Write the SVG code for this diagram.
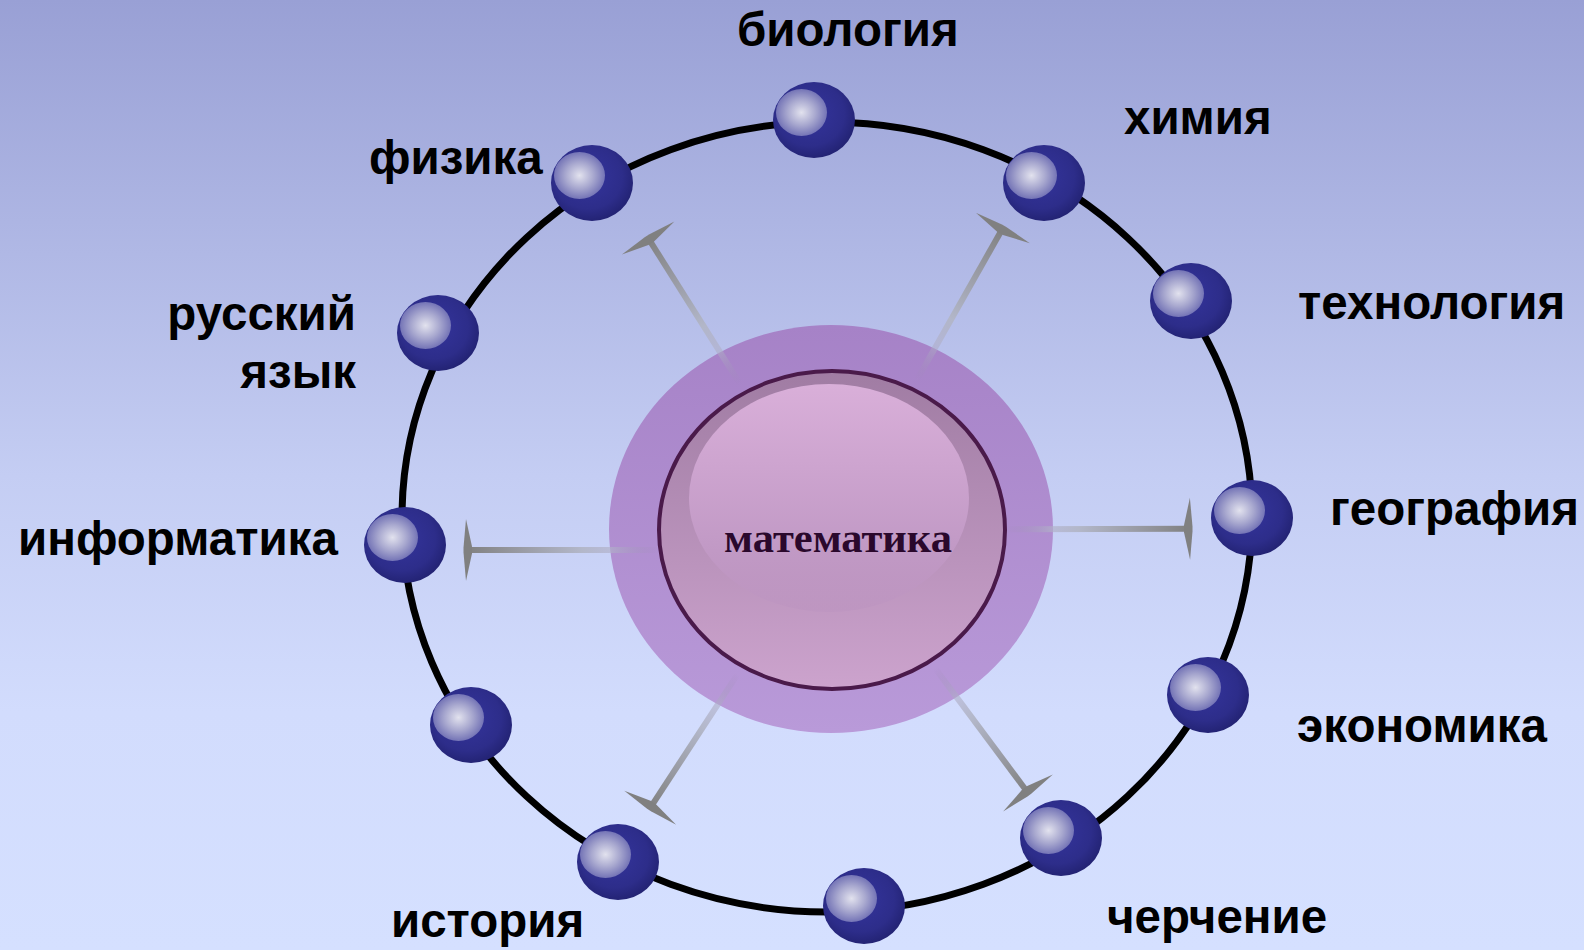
<svg xmlns="http://www.w3.org/2000/svg" xmlns:xlink="http://www.w3.org/1999/xlink" width="1584" height="950" viewBox="0 0 1584 950">
<style>
.lbl{font-family:"Liberation Sans",Arial,sans-serif;font-weight:bold;font-size:47.5px;fill:#000}
.ctr{font-family:"Liberation Serif","Times New Roman",serif;font-weight:bold;font-size:42.5px;fill:#2a082c}
.tbar{fill:#808080}
</style>
<defs>
<linearGradient id="bg" x1="0" y1="0" x2="0" y2="1">
<stop offset="0" stop-color="#99a0d5"/>
<stop offset="0.5" stop-color="#c4cdf3"/>
<stop offset="0.75" stop-color="#d2dcfd"/>
<stop offset="1" stop-color="#d5e0ff"/>
</linearGradient>
<radialGradient id="ballBody" cx="0.45" cy="0.42" r="0.6">
<stop offset="0" stop-color="#34349c"/>
<stop offset="0.7" stop-color="#2d2d8a"/>
<stop offset="1" stop-color="#222272"/>
</radialGradient>
<radialGradient id="ballHi" cx="0.5" cy="0.5" r="0.5">
<stop offset="0" stop-color="#e2e2ee"/>
<stop offset="0.55" stop-color="#a8a8cf"/>
<stop offset="1" stop-color="#7474b6"/>
</radialGradient>
<linearGradient id="halo" x1="0" y1="0" x2="0" y2="1">
<stop offset="0" stop-color="#a682c7"/>
<stop offset="1" stop-color="#b99ad9"/>
</linearGradient>
<linearGradient id="core" x1="0" y1="0" x2="0" y2="1">
<stop offset="0" stop-color="#a07ca3"/>
<stop offset="1" stop-color="#cca3cd"/>
</linearGradient>
<linearGradient id="coreHi" x1="0" y1="0" x2="0" y2="1">
<stop offset="0" stop-color="#d9afd9"/>
<stop offset="0.7" stop-color="#c29ac6"/>
<stop offset="1" stop-color="#bc94c0" stop-opacity="0.6"/>
</linearGradient>
<linearGradient id="arrowGrad" x1="0" y1="0" x2="1" y2="0">
<stop offset="0" stop-color="#9a86b0" stop-opacity="0"/>
<stop offset="0.25" stop-color="#b0b0c8" stop-opacity="0.65"/>
<stop offset="0.4" stop-color="#b2b6c7" stop-opacity="0.95"/>
<stop offset="1" stop-color="#808080"/>
</linearGradient>
<g id="ball">
<ellipse cx="0" cy="0" rx="41" ry="38" fill="url(#ballBody)"/>
<ellipse cx="-12.5" cy="-7.5" rx="25.5" ry="23.5" fill="url(#ballHi)"/>
</g>
</defs>

<rect x="0" y="0" width="1584" height="950" fill="url(#bg)"/>

<g id="orbit">
<ellipse cx="827" cy="517" rx="425" ry="395" fill="none" stroke="#000" stroke-width="7"/>
</g>

<g id="center-halo">
<ellipse cx="831" cy="529" rx="222" ry="204" fill="url(#halo)"/>
</g>

<g id="connectors">
<g transform="translate(832,530) rotate(-122.2)">
<rect x="172" y="-3" width="173" height="6" fill="url(#arrowGrad)"/>
<polygon class="tbar" points="345,-31 347.5,-2.5 347.5,2.5 345,31 339,3.5 339,-3.5"/>
</g>
<g transform="translate(832,530) rotate(-60.5)">
<rect x="172" y="-3" width="175" height="6" fill="url(#arrowGrad)"/>
<polygon class="tbar" points="347,-31 349.5,-2.5 349.5,2.5 347,31 341,3.5 341,-3.5"/>
</g>
<g transform="translate(832,530) rotate(-0.2)">
<rect x="172" y="-3" width="186" height="6" fill="url(#arrowGrad)"/>
<polygon class="tbar" points="358,-31 360.5,-2.5 360.5,2.5 358,31 352,3.5 352,-3.5"/>
</g>
<g transform="translate(832,550) rotate(180)">
<rect x="172" y="-3" width="194" height="6" fill="url(#arrowGrad)"/>
<polygon class="tbar" points="366,-31 368.5,-2.5 368.5,2.5 366,31 360,3.5 360,-3.5"/>
</g>
<g transform="translate(832,530) rotate(53.3)">
<rect x="172" y="-3" width="156" height="6" fill="url(#arrowGrad)"/>
<polygon class="tbar" points="328,-31 330.5,-2.5 330.5,2.5 328,31 322,3.5 322,-3.5"/>
</g>
<g transform="translate(832,530) rotate(123.2)">
<rect x="172" y="-3" width="160" height="6" fill="url(#arrowGrad)"/>
<polygon class="tbar" points="332,-31 334.5,-2.5 334.5,2.5 332,31 326,3.5 326,-3.5"/>
</g>
</g>

<g id="node-math">
<ellipse cx="832" cy="530" rx="173" ry="159" fill="url(#core)" stroke="#4a1a4a" stroke-width="4"/>
<ellipse cx="829" cy="498" rx="140" ry="114" fill="url(#coreHi)"/>
<text class="ctr" x="838" y="552" text-anchor="middle">математика</text>
</g>

<g id="node-biology"><use xlink:href="#ball" x="814" y="120"/><text class="lbl" x="737" y="46">биология</text></g>
<g id="node-chemistry"><use xlink:href="#ball" x="1044" y="183"/><text class="lbl" x="1124" y="134">химия</text></g>
<g id="node-technology"><use xlink:href="#ball" x="1191" y="301"/><text class="lbl" x="1298" y="319">технология</text></g>
<g id="node-geography"><use xlink:href="#ball" x="1252" y="518"/><text class="lbl" x="1330" y="525">география</text></g>
<g id="node-economics"><use xlink:href="#ball" x="1208" y="695"/><text class="lbl" x="1297" y="742">экономика</text></g>
<g id="node-drawing"><use xlink:href="#ball" x="1061" y="838"/><text class="lbl" x="1107" y="933">черчение</text></g>
<g id="node-bottom"><use xlink:href="#ball" x="864" y="906"/></g>
<g id="node-history"><use xlink:href="#ball" x="618" y="862"/><text class="lbl" x="391" y="937">история</text></g>
<g id="node-lowerleft"><use xlink:href="#ball" x="471" y="725"/></g>
<g id="node-informatics"><use xlink:href="#ball" x="405" y="545"/><text class="lbl" x="18" y="555">информатика</text></g>
<g id="node-russian"><use xlink:href="#ball" x="438" y="333"/><text class="lbl" x="356" y="330" text-anchor="end">русский</text><text class="lbl" x="356" y="388" text-anchor="end">язык</text></g>
<g id="node-physics"><use xlink:href="#ball" x="592" y="183"/><text class="lbl" x="369" y="174">физика</text></g>
</svg>
